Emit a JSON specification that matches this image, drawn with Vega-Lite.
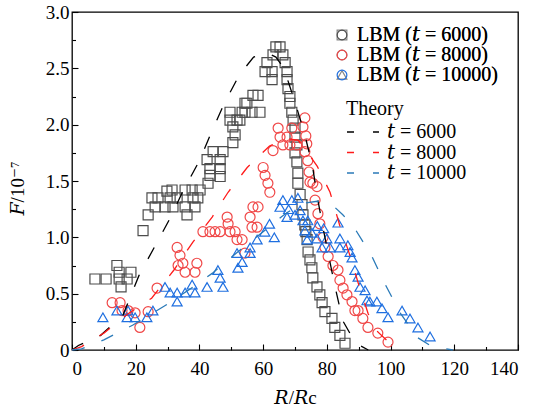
{
  "$schema": "https://vega.github.io/schema/vega-lite/v6.json",
  "width": 446,
  "height": 338,
  "autosize": {"type": "none"},
  "padding": {"left": 72, "top": 12, "right": 16, "bottom": 59},
  "background": "white",
  "config": {
    "view": {"stroke": "black", "strokeWidth": 1.3},
    "font": "Liberation Serif, DejaVu Serif",
    "axis": {
      "domain": false,
      "grid": false,
      "labelFont": "Liberation Serif, DejaVu Serif",
      "labelFontSize": 19,
      "labelColor": "black",
      "titleFont": "Liberation Serif, DejaVu Serif",
      "titleFontSize": 19,
      "titleFontWeight": "normal",
      "titleColor": "black",
      "tickColor": "black",
      "tickWidth": 1.1
    }
  },
  "datasets": {
    "lbm": [
      {"R": 7.2, "F": 0.63, "series": "LBM (𝑡 = 6000)"},
      {"R": 10.7, "F": 0.63, "series": "LBM (𝑡 = 6000)"},
      {"R": 14.1, "F": 0.75, "series": "LBM (𝑡 = 6000)"},
      {"R": 14.8, "F": 0.69, "series": "LBM (𝑡 = 6000)"},
      {"R": 18.5, "F": 0.69, "series": "LBM (𝑡 = 6000)"},
      {"R": 15.4, "F": 0.56, "series": "LBM (𝑡 = 6000)"},
      {"R": 14.8, "F": 0.63, "series": "LBM (𝑡 = 6000)"},
      {"R": 17.3, "F": 0.63, "series": "LBM (𝑡 = 6000)"},
      {"R": 22.3, "F": 1.06, "series": "LBM (𝑡 = 6000)"},
      {"R": 23.9, "F": 1.2, "series": "LBM (𝑡 = 6000)"},
      {"R": 25.1, "F": 1.35, "series": "LBM (𝑡 = 6000)"},
      {"R": 27.0, "F": 1.35, "series": "LBM (𝑡 = 6000)"},
      {"R": 26.1, "F": 1.27, "series": "LBM (𝑡 = 6000)"},
      {"R": 29.8, "F": 1.41, "series": "LBM (𝑡 = 6000)"},
      {"R": 29.2, "F": 1.27, "series": "LBM (𝑡 = 6000)"},
      {"R": 31.7, "F": 1.27, "series": "LBM (𝑡 = 6000)"},
      {"R": 30.8, "F": 1.35, "series": "LBM (𝑡 = 6000)"},
      {"R": 33.0, "F": 1.35, "series": "LBM (𝑡 = 6000)"},
      {"R": 31.4, "F": 1.42, "series": "LBM (𝑡 = 6000)"},
      {"R": 35.5, "F": 1.27, "series": "LBM (𝑡 = 6000)"},
      {"R": 36.1, "F": 1.2, "series": "LBM (𝑡 = 6000)"},
      {"R": 35.5, "F": 1.42, "series": "LBM (𝑡 = 6000)"},
      {"R": 37.7, "F": 1.42, "series": "LBM (𝑡 = 6000)"},
      {"R": 38.0, "F": 1.35, "series": "LBM (𝑡 = 6000)"},
      {"R": 39.5, "F": 1.35, "series": "LBM (𝑡 = 6000)"},
      {"R": 38.6, "F": 1.27, "series": "LBM (𝑡 = 6000)"},
      {"R": 40.2, "F": 1.42, "series": "LBM (𝑡 = 6000)"},
      {"R": 42.7, "F": 1.48, "series": "LBM (𝑡 = 6000)"},
      {"R": 43.3, "F": 1.55, "series": "LBM (𝑡 = 6000)"},
      {"R": 46.5, "F": 1.61, "series": "LBM (𝑡 = 6000)"},
      {"R": 46.5, "F": 1.54, "series": "LBM (𝑡 = 6000)"},
      {"R": 44.3, "F": 1.76, "series": "LBM (𝑡 = 6000)"},
      {"R": 47.4, "F": 1.76, "series": "LBM (𝑡 = 6000)"},
      {"R": 42.4, "F": 1.69, "series": "LBM (𝑡 = 6000)"},
      {"R": 43.3, "F": 1.61, "series": "LBM (𝑡 = 6000)"},
      {"R": 46.5, "F": 1.69, "series": "LBM (𝑡 = 6000)"},
      {"R": 50.5, "F": 1.84, "series": "LBM (𝑡 = 6000)"},
      {"R": 51.2, "F": 1.91, "series": "LBM (𝑡 = 6000)"},
      {"R": 50.5, "F": 1.98, "series": "LBM (𝑡 = 6000)"},
      {"R": 49.6, "F": 2.04, "series": "LBM (𝑡 = 6000)"},
      {"R": 51.8, "F": 2.04, "series": "LBM (𝑡 = 6000)"},
      {"R": 49.6, "F": 2.11, "series": "LBM (𝑡 = 6000)"},
      {"R": 53.4, "F": 2.11, "series": "LBM (𝑡 = 6000)"},
      {"R": 54.9, "F": 2.19, "series": "LBM (𝑡 = 6000)"},
      {"R": 56.8, "F": 2.26, "series": "LBM (𝑡 = 6000)"},
      {"R": 54.3, "F": 2.11, "series": "LBM (𝑡 = 6000)"},
      {"R": 56.5, "F": 2.11, "series": "LBM (𝑡 = 6000)"},
      {"R": 52.7, "F": 2.04, "series": "LBM (𝑡 = 6000)"},
      {"R": 58.4, "F": 2.26, "series": "LBM (𝑡 = 6000)"},
      {"R": 59.0, "F": 2.11, "series": "LBM (𝑡 = 6000)"},
      {"R": 54.3, "F": 2.19, "series": "LBM (𝑡 = 6000)"},
      {"R": 64.0, "F": 2.69, "series": "LBM (𝑡 = 6000)"},
      {"R": 65.3, "F": 2.69, "series": "LBM (𝑡 = 6000)"},
      {"R": 66.2, "F": 2.62, "series": "LBM (𝑡 = 6000)"},
      {"R": 61.2, "F": 2.55, "series": "LBM (𝑡 = 6000)"},
      {"R": 63.1, "F": 2.62, "series": "LBM (𝑡 = 6000)"},
      {"R": 66.9, "F": 2.55, "series": "LBM (𝑡 = 6000)"},
      {"R": 60.6, "F": 2.47, "series": "LBM (𝑡 = 6000)"},
      {"R": 62.8, "F": 2.47, "series": "LBM (𝑡 = 6000)"},
      {"R": 67.5, "F": 2.47, "series": "LBM (𝑡 = 6000)"},
      {"R": 62.8, "F": 2.4, "series": "LBM (𝑡 = 6000)"},
      {"R": 67.5, "F": 2.4, "series": "LBM (𝑡 = 6000)"},
      {"R": 67.8, "F": 2.32, "series": "LBM (𝑡 = 6000)"},
      {"R": 68.4, "F": 2.25, "series": "LBM (𝑡 = 6000)"},
      {"R": 68.4, "F": 2.19, "series": "LBM (𝑡 = 6000)"},
      {"R": 69.0, "F": 2.11, "series": "LBM (𝑡 = 6000)"},
      {"R": 69.4, "F": 2.04, "series": "LBM (𝑡 = 6000)"},
      {"R": 70.0, "F": 1.97, "series": "LBM (𝑡 = 6000)"},
      {"R": 70.0, "F": 1.89, "series": "LBM (𝑡 = 6000)"},
      {"R": 70.6, "F": 1.82, "series": "LBM (𝑡 = 6000)"},
      {"R": 70.0, "F": 1.75, "series": "LBM (𝑡 = 6000)"},
      {"R": 70.6, "F": 1.67, "series": "LBM (𝑡 = 6000)"},
      {"R": 70.9, "F": 1.57, "series": "LBM (𝑡 = 6000)"},
      {"R": 70.9, "F": 1.48, "series": "LBM (𝑡 = 6000)"},
      {"R": 71.6, "F": 1.38, "series": "LBM (𝑡 = 6000)"},
      {"R": 72.2, "F": 1.29, "series": "LBM (𝑡 = 6000)"},
      {"R": 72.5, "F": 1.2, "series": "LBM (𝑡 = 6000)"},
      {"R": 73.1, "F": 1.11, "series": "LBM (𝑡 = 6000)"},
      {"R": 73.4, "F": 1.05, "series": "LBM (𝑡 = 6000)"},
      {"R": 73.8, "F": 0.98, "series": "LBM (𝑡 = 6000)"},
      {"R": 74.1, "F": 0.87, "series": "LBM (𝑡 = 6000)"},
      {"R": 74.7, "F": 0.8, "series": "LBM (𝑡 = 6000)"},
      {"R": 75.3, "F": 0.73, "series": "LBM (𝑡 = 6000)"},
      {"R": 75.6, "F": 0.64, "series": "LBM (𝑡 = 6000)"},
      {"R": 76.9, "F": 0.56, "series": "LBM (𝑡 = 6000)"},
      {"R": 77.8, "F": 0.49, "series": "LBM (𝑡 = 6000)"},
      {"R": 78.5, "F": 0.42, "series": "LBM (𝑡 = 6000)"},
      {"R": 79.4, "F": 0.34, "series": "LBM (𝑡 = 6000)"},
      {"R": 81.6, "F": 0.28, "series": "LBM (𝑡 = 6000)"},
      {"R": 82.5, "F": 0.2, "series": "LBM (𝑡 = 6000)"},
      {"R": 84.1, "F": 0.13, "series": "LBM (𝑡 = 6000)"},
      {"R": 85.7, "F": 0.06, "series": "LBM (𝑡 = 6000)"},

      {"R": 12.6, "F": 0.42, "series": "LBM (𝑡 = 8000)"},
      {"R": 15.1, "F": 0.42, "series": "LBM (𝑡 = 8000)"},
      {"R": 15.7, "F": 0.35, "series": "LBM (𝑡 = 8000)"},
      {"R": 17.6, "F": 0.35, "series": "LBM (𝑡 = 8000)"},
      {"R": 19.8, "F": 0.33, "series": "LBM (𝑡 = 8000)"},
      {"R": 21.3, "F": 0.2, "series": "LBM (𝑡 = 8000)"},
      {"R": 23.9, "F": 0.34, "series": "LBM (𝑡 = 8000)"},
      {"R": 26.7, "F": 0.55, "series": "LBM (𝑡 = 8000)"},
      {"R": 33.0, "F": 0.91, "series": "LBM (𝑡 = 8000)"},
      {"R": 33.9, "F": 0.84, "series": "LBM (𝑡 = 8000)"},
      {"R": 34.8, "F": 0.77, "series": "LBM (𝑡 = 8000)"},
      {"R": 35.5, "F": 0.69, "series": "LBM (𝑡 = 8000)"},
      {"R": 38.6, "F": 0.69, "series": "LBM (𝑡 = 8000)"},
      {"R": 39.2, "F": 0.77, "series": "LBM (𝑡 = 8000)"},
      {"R": 33.3, "F": 0.75, "series": "LBM (𝑡 = 8000)"},
      {"R": 41.1, "F": 1.05, "series": "LBM (𝑡 = 8000)"},
      {"R": 43.3, "F": 1.05, "series": "LBM (𝑡 = 8000)"},
      {"R": 44.9, "F": 1.05, "series": "LBM (𝑡 = 8000)"},
      {"R": 46.5, "F": 1.05, "series": "LBM (𝑡 = 8000)"},
      {"R": 48.7, "F": 1.18, "series": "LBM (𝑡 = 8000)"},
      {"R": 49.0, "F": 1.12, "series": "LBM (𝑡 = 8000)"},
      {"R": 49.6, "F": 1.05, "series": "LBM (𝑡 = 8000)"},
      {"R": 51.2, "F": 1.05, "series": "LBM (𝑡 = 8000)"},
      {"R": 51.8, "F": 0.98, "series": "LBM (𝑡 = 8000)"},
      {"R": 53.4, "F": 0.98, "series": "LBM (𝑡 = 8000)"},
      {"R": 54.3, "F": 0.86, "series": "LBM (𝑡 = 8000)"},
      {"R": 55.9, "F": 1.18, "series": "LBM (𝑡 = 8000)"},
      {"R": 56.8, "F": 1.27, "series": "LBM (𝑡 = 8000)"},
      {"R": 56.5, "F": 1.09, "series": "LBM (𝑡 = 8000)"},
      {"R": 58.1, "F": 1.09, "series": "LBM (𝑡 = 8000)"},
      {"R": 58.4, "F": 1.27, "series": "LBM (𝑡 = 8000)"},
      {"R": 60.0, "F": 1.62, "series": "LBM (𝑡 = 8000)"},
      {"R": 60.6, "F": 1.55, "series": "LBM (𝑡 = 8000)"},
      {"R": 61.5, "F": 1.48, "series": "LBM (𝑡 = 8000)"},
      {"R": 62.1, "F": 1.4, "series": "LBM (𝑡 = 8000)"},
      {"R": 63.1, "F": 1.77, "series": "LBM (𝑡 = 8000)"},
      {"R": 64.7, "F": 1.97, "series": "LBM (𝑡 = 8000)"},
      {"R": 65.3, "F": 1.89, "series": "LBM (𝑡 = 8000)"},
      {"R": 66.2, "F": 1.82, "series": "LBM (𝑡 = 8000)"},
      {"R": 67.5, "F": 1.89, "series": "LBM (𝑡 = 8000)"},
      {"R": 68.4, "F": 1.82, "series": "LBM (𝑡 = 8000)"},
      {"R": 69.0, "F": 1.97, "series": "LBM (𝑡 = 8000)"},
      {"R": 70.6, "F": 1.82, "series": "LBM (𝑡 = 8000)"},
      {"R": 72.5, "F": 1.98, "series": "LBM (𝑡 = 8000)"},
      {"R": 73.1, "F": 2.06, "series": "LBM (𝑡 = 8000)"},
      {"R": 73.4, "F": 1.9, "series": "LBM (𝑡 = 8000)"},
      {"R": 73.7, "F": 1.83, "series": "LBM (𝑡 = 8000)"},
      {"R": 73.1, "F": 1.76, "series": "LBM (𝑡 = 8000)"},
      {"R": 74.0, "F": 1.68, "series": "LBM (𝑡 = 8000)"},
      {"R": 74.4, "F": 1.58, "series": "LBM (𝑡 = 8000)"},
      {"R": 74.7, "F": 1.49, "series": "LBM (𝑡 = 8000)"},
      {"R": 75.6, "F": 1.48, "series": "LBM (𝑡 = 8000)"},
      {"R": 76.9, "F": 1.45, "series": "LBM (𝑡 = 8000)"},
      {"R": 76.3, "F": 1.33, "series": "LBM (𝑡 = 8000)"},
      {"R": 77.2, "F": 1.21, "series": "LBM (𝑡 = 8000)"},
      {"R": 77.8, "F": 1.12, "series": "LBM (𝑡 = 8000)"},
      {"R": 78.8, "F": 1.0, "series": "LBM (𝑡 = 8000)"},
      {"R": 79.4, "F": 0.91, "series": "LBM (𝑡 = 8000)"},
      {"R": 80.4, "F": 0.83, "series": "LBM (𝑡 = 8000)"},
      {"R": 81.9, "F": 0.75, "series": "LBM (𝑡 = 8000)"},
      {"R": 83.5, "F": 0.71, "series": "LBM (𝑡 = 8000)"},
      {"R": 84.1, "F": 0.62, "series": "LBM (𝑡 = 8000)"},
      {"R": 85.1, "F": 0.55, "series": "LBM (𝑡 = 8000)"},
      {"R": 86.3, "F": 0.49, "series": "LBM (𝑡 = 8000)"},
      {"R": 87.9, "F": 0.43, "series": "LBM (𝑡 = 8000)"},
      {"R": 88.8, "F": 0.35, "series": "LBM (𝑡 = 8000)"},
      {"R": 89.8, "F": 0.35, "series": "LBM (𝑡 = 8000)"},
      {"R": 91.3, "F": 0.28, "series": "LBM (𝑡 = 8000)"},
      {"R": 92.9, "F": 0.2, "series": "LBM (𝑡 = 8000)"},
      {"R": 96.0, "F": 0.15, "series": "LBM (𝑡 = 8000)"},
      {"R": 99.2, "F": 0.07, "series": "LBM (𝑡 = 8000)"},

      {"R": 9.7, "F": 0.29, "series": "LBM (𝑡 = 10000)"},
      {"R": 14.1, "F": 0.35, "series": "LBM (𝑡 = 10000)"},
      {"R": 17.6, "F": 0.35, "series": "LBM (𝑡 = 10000)"},
      {"R": 17.3, "F": 0.29, "series": "LBM (𝑡 = 10000)"},
      {"R": 19.8, "F": 0.29, "series": "LBM (𝑡 = 10000)"},
      {"R": 23.5, "F": 0.29, "series": "LBM (𝑡 = 10000)"},
      {"R": 25.4, "F": 0.35, "series": "LBM (𝑡 = 10000)"},
      {"R": 29.2, "F": 0.56, "series": "LBM (𝑡 = 10000)"},
      {"R": 30.8, "F": 0.51, "series": "LBM (𝑡 = 10000)"},
      {"R": 33.0, "F": 0.43, "series": "LBM (𝑡 = 10000)"},
      {"R": 33.0, "F": 0.51, "series": "LBM (𝑡 = 10000)"},
      {"R": 35.5, "F": 0.51, "series": "LBM (𝑡 = 10000)"},
      {"R": 37.7, "F": 0.58, "series": "LBM (𝑡 = 10000)"},
      {"R": 38.6, "F": 0.51, "series": "LBM (𝑡 = 10000)"},
      {"R": 42.4, "F": 0.56, "series": "LBM (𝑡 = 10000)"},
      {"R": 45.8, "F": 0.71, "series": "LBM (𝑡 = 10000)"},
      {"R": 46.5, "F": 0.64, "series": "LBM (𝑡 = 10000)"},
      {"R": 47.4, "F": 0.56, "series": "LBM (𝑡 = 10000)"},
      {"R": 51.8, "F": 0.86, "series": "LBM (𝑡 = 10000)"},
      {"R": 52.1, "F": 0.73, "series": "LBM (𝑡 = 10000)"},
      {"R": 53.4, "F": 0.78, "series": "LBM (𝑡 = 10000)"},
      {"R": 55.9, "F": 0.91, "series": "LBM (𝑡 = 10000)"},
      {"R": 55.9, "F": 0.86, "series": "LBM (𝑡 = 10000)"},
      {"R": 58.1, "F": 0.98, "series": "LBM (𝑡 = 10000)"},
      {"R": 60.5, "F": 1.05, "series": "LBM (𝑡 = 10000)"},
      {"R": 62.0, "F": 1.12, "series": "LBM (𝑡 = 10000)"},
      {"R": 63.5, "F": 1.0, "series": "LBM (𝑡 = 10000)"},
      {"R": 65.3, "F": 1.27, "series": "LBM (𝑡 = 10000)"},
      {"R": 66.2, "F": 1.33, "series": "LBM (𝑡 = 10000)"},
      {"R": 67.5, "F": 1.18, "series": "LBM (𝑡 = 10000)"},
      {"R": 68.0, "F": 1.25, "series": "LBM (𝑡 = 10000)"},
      {"R": 69.0, "F": 1.33, "series": "LBM (𝑡 = 10000)"},
      {"R": 70.0, "F": 1.2, "series": "LBM (𝑡 = 10000)"},
      {"R": 70.9, "F": 1.35, "series": "LBM (𝑡 = 10000)"},
      {"R": 71.6, "F": 1.24, "series": "LBM (𝑡 = 10000)"},
      {"R": 72.5, "F": 1.15, "series": "LBM (𝑡 = 10000)"},
      {"R": 73.1, "F": 1.06, "series": "LBM (𝑡 = 10000)"},
      {"R": 73.8, "F": 0.98, "series": "LBM (𝑡 = 10000)"},
      {"R": 74.0, "F": 1.15, "series": "LBM (𝑡 = 10000)"},
      {"R": 75.3, "F": 1.04, "series": "LBM (𝑡 = 10000)"},
      {"R": 76.9, "F": 0.99, "series": "LBM (𝑡 = 10000)"},
      {"R": 77.0, "F": 1.1, "series": "LBM (𝑡 = 10000)"},
      {"R": 78.5, "F": 0.91, "series": "LBM (𝑡 = 10000)"},
      {"R": 79.0, "F": 1.08, "series": "LBM (𝑡 = 10000)"},
      {"R": 80.0, "F": 0.99, "series": "LBM (𝑡 = 10000)"},
      {"R": 81.0, "F": 0.91, "series": "LBM (𝑡 = 10000)"},
      {"R": 83.5, "F": 1.13, "series": "LBM (𝑡 = 10000)"},
      {"R": 84.1, "F": 0.99, "series": "LBM (𝑡 = 10000)"},
      {"R": 84.1, "F": 0.91, "series": "LBM (𝑡 = 10000)"},
      {"R": 86.6, "F": 0.93, "series": "LBM (𝑡 = 10000)"},
      {"R": 87.3, "F": 0.87, "series": "LBM (𝑡 = 10000)"},
      {"R": 87.9, "F": 0.82, "series": "LBM (𝑡 = 10000)"},
      {"R": 88.8, "F": 0.71, "series": "LBM (𝑡 = 10000)"},
      {"R": 89.8, "F": 0.65, "series": "LBM (𝑡 = 10000)"},
      {"R": 90.4, "F": 0.56, "series": "LBM (𝑡 = 10000)"},
      {"R": 92.0, "F": 0.53, "series": "LBM (𝑡 = 10000)"},
      {"R": 92.6, "F": 0.44, "series": "LBM (𝑡 = 10000)"},
      {"R": 93.5, "F": 0.43, "series": "LBM (𝑡 = 10000)"},
      {"R": 95.7, "F": 0.43, "series": "LBM (𝑡 = 10000)"},
      {"R": 97.3, "F": 0.37, "series": "LBM (𝑡 = 10000)"},
      {"R": 99.2, "F": 0.29, "series": "LBM (𝑡 = 10000)"},
      {"R": 103.6, "F": 0.35, "series": "LBM (𝑡 = 10000)"},
      {"R": 106.1, "F": 0.28, "series": "LBM (𝑡 = 10000)"},
      {"R": 108.6, "F": 0.2, "series": "LBM (𝑡 = 10000)"},
      {"R": 112.4, "F": 0.12, "series": "LBM (𝑡 = 10000)"}
    ],
    "theory": [
      {"R": 0, "F": 0, "curve": "𝑡 = 6000"},
      {"R": 2, "F": 0.04, "curve": "𝑡 = 6000"},
      {"R": 9, "F": 0.13, "curve": "𝑡 = 6000"},
      {"R": 16, "F": 0.31, "curve": "𝑡 = 6000"},
      {"R": 21, "F": 0.66, "curve": "𝑡 = 6000"},
      {"R": 26, "F": 0.92, "curve": "𝑡 = 6000"},
      {"R": 31, "F": 1.18, "curve": "𝑡 = 6000"},
      {"R": 35, "F": 1.42, "curve": "𝑡 = 6000"},
      {"R": 40, "F": 1.68, "curve": "𝑡 = 6000"},
      {"R": 44, "F": 1.95, "curve": "𝑡 = 6000"},
      {"R": 48, "F": 2.2, "curve": "𝑡 = 6000"},
      {"R": 52.5, "F": 2.44, "curve": "𝑡 = 6000"},
      {"R": 57, "F": 2.6, "curve": "𝑡 = 6000"},
      {"R": 61, "F": 2.64, "curve": "𝑡 = 6000"},
      {"R": 64, "F": 2.6, "curve": "𝑡 = 6000"},
      {"R": 66.5, "F": 2.5, "curve": "𝑡 = 6000"},
      {"R": 70, "F": 2.2, "curve": "𝑡 = 6000"},
      {"R": 73, "F": 1.92, "curve": "𝑡 = 6000"},
      {"R": 75.5, "F": 1.63, "curve": "𝑡 = 6000"},
      {"R": 77, "F": 1.36, "curve": "𝑡 = 6000"},
      {"R": 78.6, "F": 1.11, "curve": "𝑡 = 6000"},
      {"R": 82.5, "F": 0.57, "curve": "𝑡 = 6000"},
      {"R": 85, "F": 0.26, "curve": "𝑡 = 6000"},
      {"R": 89, "F": 0.06, "curve": "𝑡 = 6000"},
      {"R": 93, "F": 0, "curve": "𝑡 = 6000"},

      {"R": 0, "F": 0, "curve": "𝑡 = 8000"},
      {"R": 3, "F": 0.03, "curve": "𝑡 = 8000"},
      {"R": 10, "F": 0.15, "curve": "𝑡 = 8000"},
      {"R": 17.5, "F": 0.32, "curve": "𝑡 = 8000"},
      {"R": 25, "F": 0.46, "curve": "𝑡 = 8000"},
      {"R": 32, "F": 0.71, "curve": "𝑡 = 8000"},
      {"R": 38, "F": 0.96, "curve": "𝑡 = 8000"},
      {"R": 44, "F": 1.18, "curve": "𝑡 = 8000"},
      {"R": 49, "F": 1.4, "curve": "𝑡 = 8000"},
      {"R": 55, "F": 1.62, "curve": "𝑡 = 8000"},
      {"R": 62, "F": 1.81, "curve": "𝑡 = 8000"},
      {"R": 67, "F": 1.88, "curve": "𝑡 = 8000"},
      {"R": 71, "F": 1.86, "curve": "𝑡 = 8000"},
      {"R": 74, "F": 1.75, "curve": "𝑡 = 8000"},
      {"R": 77, "F": 1.63, "curve": "𝑡 = 8000"},
      {"R": 81, "F": 1.4, "curve": "𝑡 = 8000"},
      {"R": 84, "F": 1.11, "curve": "𝑡 = 8000"},
      {"R": 87, "F": 0.86, "curve": "𝑡 = 8000"},
      {"R": 90, "F": 0.58, "curve": "𝑡 = 8000"},
      {"R": 93, "F": 0.32, "curve": "𝑡 = 8000"},
      {"R": 96, "F": 0.16, "curve": "𝑡 = 8000"},
      {"R": 99, "F": 0.08, "curve": "𝑡 = 8000"},
      {"R": 102, "F": 0, "curve": "𝑡 = 8000"},

      {"R": 0, "F": 0, "curve": "𝑡 = 10000"},
      {"R": 3, "F": 0.01, "curve": "𝑡 = 10000"},
      {"R": 10, "F": 0.09, "curve": "𝑡 = 10000"},
      {"R": 19, "F": 0.22, "curve": "𝑡 = 10000"},
      {"R": 29, "F": 0.39, "curve": "𝑡 = 10000"},
      {"R": 37, "F": 0.54, "curve": "𝑡 = 10000"},
      {"R": 44, "F": 0.68, "curve": "𝑡 = 10000"},
      {"R": 52, "F": 0.87, "curve": "𝑡 = 10000"},
      {"R": 60, "F": 1.05, "curve": "𝑡 = 10000"},
      {"R": 67, "F": 1.21, "curve": "𝑡 = 10000"},
      {"R": 72, "F": 1.3, "curve": "𝑡 = 10000"},
      {"R": 77, "F": 1.32, "curve": "𝑡 = 10000"},
      {"R": 82, "F": 1.28, "curve": "𝑡 = 10000"},
      {"R": 85, "F": 1.2, "curve": "𝑡 = 10000"},
      {"R": 88.5, "F": 1.09, "curve": "𝑡 = 10000"},
      {"R": 94, "F": 0.84, "curve": "𝑡 = 10000"},
      {"R": 98, "F": 0.6, "curve": "𝑡 = 10000"},
      {"R": 103, "F": 0.33, "curve": "𝑡 = 10000"},
      {"R": 108.5, "F": 0.11, "curve": "𝑡 = 10000"},
      {"R": 113, "F": 0.03, "curve": "𝑡 = 10000"},
      {"R": 119.5, "F": 0, "curve": "𝑡 = 10000"}
    ]
  },
  "encoding": {
    "x": {
      "field": "R", "type": "quantitative",
      "scale": {"domain": [0, 140], "nice": false},
      "axis": {
        "title": "𝑅/𝑅c",
        "values": [0, 10, 20, 30, 40, 50, 60, 70, 80, 90, 100, 110, 120, 130, 140],
        "labelExpr": "datum.value % 20 === 0 ? datum.label : ''",
        "tickSize": {"condition": {"test": "datum.value % 20 === 0", "value": -6}, "value": -3.5},
        "labelPadding": 15,
        "titlePadding": 10
      }
    },
    "y": {
      "field": "F", "type": "quantitative",
      "scale": {"domain": [0, 3], "nice": false},
      "axis": {
        "title": "𝐹/10⁻⁷",
        "values": [0, 0.25, 0.5, 0.75, 1, 1.25, 1.5, 1.75, 2, 2.25, 2.5, 2.75, 3],
        "labelExpr": "datum.value === 0 ? '0' : ((datum.value * 2) % 1 === 0 ? format(datum.value, '.1f') : '')",
        "tickSize": {"condition": {"test": "(datum.value * 2) % 1 === 0", "value": -6}, "value": -3.5},
        "labelPadding": 9,
        "titlePadding": 18,
        "titleY": 176
      }
    }
  },
  "layer": [
    {
      "data": {"name": "lbm"},
      "mark": {"type": "point", "filled": false, "strokeWidth": 1.2, "size": 100, "opacity": 1},
      "encoding": {
        "color": {
          "field": "series", "type": "nominal",
          "scale": {"domain": ["LBM (𝑡 = 6000)", "LBM (𝑡 = 8000)", "LBM (𝑡 = 10000)"], "range": ["#4d4d4d", "#f04848", "#1f6fe0"]},
          "legend": {"title": null, "orient": "none", "legendX": 260, "legendY": 13, "padding": 0, "labelFont": "Liberation Serif, DejaVu Serif", "labelFontSize": 20, "labelColor": "black", "labelOffset": 5, "rowPadding": 0, "symbolStrokeWidth": 1.2, "symbolSize": 95}
        },
        "shape": {
          "field": "series", "type": "nominal",
          "scale": {"domain": ["LBM (𝑡 = 6000)", "LBM (𝑡 = 8000)", "LBM (𝑡 = 10000)"], "range": ["square", "circle", "triangle-up"]},
          "legend": {"title": null, "orient": "none", "legendX": 260, "legendY": 13, "padding": 0, "labelFont": "Liberation Serif, DejaVu Serif", "labelFontSize": 20, "labelColor": "black", "labelOffset": 5, "rowPadding": 0, "symbolStrokeWidth": 1.2, "symbolSize": 95}
        }
      }
    },
    {
      "data": {"name": "theory"},
      "mark": {"type": "line", "strokeWidth": 1.3, "strokeDash": [13, 18]},
      "encoding": {
        "color": {
          "field": "curve", "type": "nominal",
          "scale": {"domain": ["𝑡 = 6000", "𝑡 = 8000", "𝑡 = 10000"], "range": ["#000000", "#ff1a1a", "#2a7ab8"]},
          "legend": {"title": "\u00a0\u00a0\u00a0Theory", "orient": "none", "legendX": 274, "legendY": 87, "padding": 0, "titleFont": "Liberation Serif, DejaVu Serif", "titleFontSize": 20, "titleFontWeight": "normal", "titleColor": "black", "titleAnchor": "start", "titlePadding": 3, "labelFont": "Liberation Serif, DejaVu Serif", "labelFontSize": 20, "labelColor": "black", "labelOffset": 7, "rowPadding": 0.5, "clipHeight": 20, "symbolType": "stroke", "symbolSize": 1024, "symbolDash": [7, 19], "symbolStrokeWidth": 1.3}
        }
      }
    }
  ],
  "resolve": {"scale": {"color": "independent"}}
}
